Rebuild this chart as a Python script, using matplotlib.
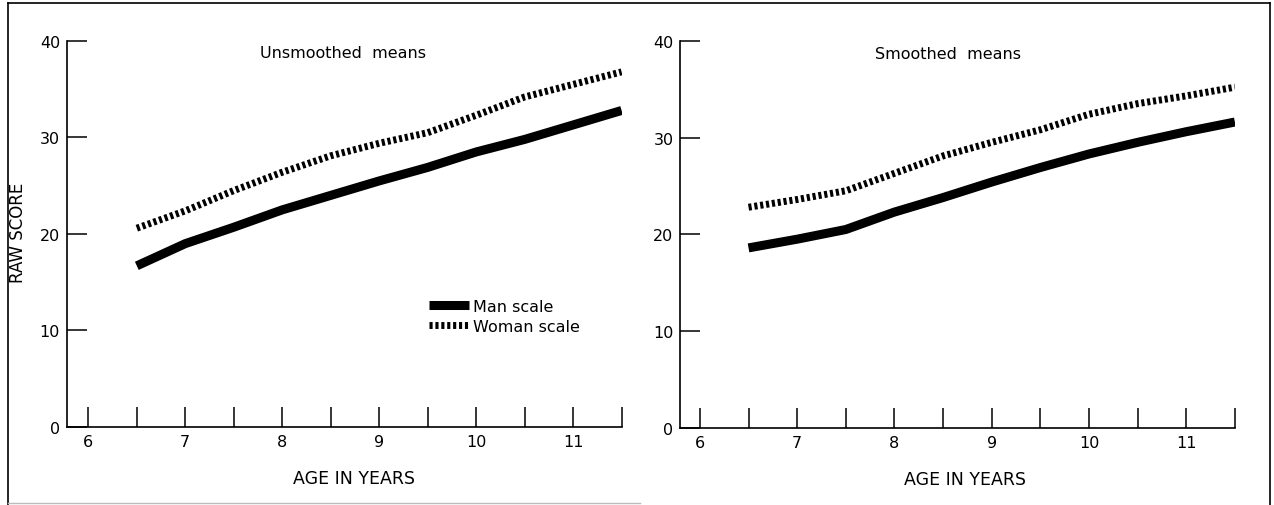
import matplotlib
matplotlib.use("agg")
import matplotlib.pyplot as plt
from matplotlib.lines import Line2D

# data
ages = [6.5, 7, 7.5, 8, 8.5, 9, 9.5, 10, 10.5, 11, 11.5]
man_unsmoothed = [16.7, 19.0, 20.7, 22.5, 24.0, 25.5, 26.9, 28.5, 29.8, 31.3, 32.8]
woman_unsmoothed = [20.6, 22.4, 24.5, 26.4, 28.1, 29.4, 30.5, 32.3, 34.2, 35.5, 36.8]
man_smoothed = [18.6, 19.5, 20.5, 22.3, 23.8, 25.4, 26.9, 28.3, 29.5, 30.6, 31.6]
woman_smoothed = [22.8, 23.6, 24.5, 26.3, 28.1, 29.5, 30.8, 32.4, 33.5, 34.3, 35.2]

x_ticks = [6, 6.5, 7, 7.5, 8, 8.5, 9, 9.5, 10, 10.5, 11, 11.5]
x_labels = ['6', '', '7', '', '8', '', '9', '', '10', '', '11', '']
y_ticks = [0, 10, 20, 30, 40]

plt.rcParams['font.family'] = ['DejaVu Sans']
plt.rcParams['font.size'] = 11

fig = plt.figure(figsize=(12.74, 5.06), dpi=100)
ax1 = fig.add_axes([0.0526, 0.1542, 0.4353, 0.7628])
ax2 = fig.add_axes([0.5341, 0.1522, 0.4352, 0.7654])

woman_style = dict(color='black', linewidth=5, linestyle=(0, (0.45, 0.4)),
                   dash_capstyle='butt', solid_capstyle='butt',
                   solid_joinstyle='round')
man_style = dict(color='black', linewidth=6.5, solid_capstyle='butt',
                 solid_joinstyle='round')


def style_axes(ax, xmin):
    ax.set_xlim(xmin, 11.5)
    ax.set_ylim(0, 40)
    for s in ['top', 'right']:
        ax.spines[s].set_visible(False)
    for s in ['left', 'bottom']:
        ax.spines[s].set_linewidth(1.2)
    ax.set_xticks(x_ticks)
    ax.set_xticklabels(x_labels)
    ax.set_yticks(y_ticks)
    ax.tick_params(direction='in', length=14.5, width=1.1, labelsize=11.5)
    ax.tick_params(axis='x', pad=5)
    ax.tick_params(axis='y', pad=5)


# left panel
ax1.plot(ages, woman_unsmoothed, label='Woman scale', **woman_style)
ax1.plot(ages, man_unsmoothed, label='Man scale', **man_style)
style_axes(ax1, 5.78)
ax1.text(0.4977, 0.969, 'Unsmoothed  means', transform=ax1.transAxes,
         ha='center', va='center', fontsize=11.5)
ax1.text(0.5175, -0.132, 'AGE IN YEARS', transform=ax1.transAxes,
         ha='center', va='center', fontsize=12.5)
handles, labels = ax1.get_legend_handles_labels()
ax1.legend(handles[::-1], labels[::-1], frameon=False, loc='upper left',
           bbox_to_anchor=(0.652, 0.332), borderpad=0, borderaxespad=0,
           handlelength=2.5, handletextpad=0.25, labelspacing=0.3,
           fontsize=11.5)

# right panel
ax2.plot(ages, woman_smoothed, **woman_style)
ax2.plot(ages, man_smoothed, **man_style)
style_axes(ax2, 5.8)
ax2.text(0.4824, 0.9657, 'Smoothed  means', transform=ax2.transAxes,
         ha='center', va='center', fontsize=11.5)
ax2.text(0.513, -0.132, 'AGE IN YEARS', transform=ax2.transAxes,
         ha='center', va='center', fontsize=12.5)

fig.text(0.0141, 0.5395, 'RAW SCORE', rotation=90, ha='center', va='center',
         fontsize=12)

# page frame around both panels (open at the bottom)
W, H = 1274.0, 506.0
frame = [((8, 8), (4, 506)), ((8, 1270), (4, 4)), ((1270, 1270), (4, 506))]
for xs, ys in frame:
    fig.add_artist(Line2D([x / W for x in xs], [1 - y / H for y in ys],
                          color='black', linewidth=1.2))
fig.add_artist(Line2D([8 / W, 640 / W], [1 - 504 / H, 1 - 504 / H],
                      color='#bbbbbb', linewidth=1.0))

plt.savefig('out.png', dpi=100)
